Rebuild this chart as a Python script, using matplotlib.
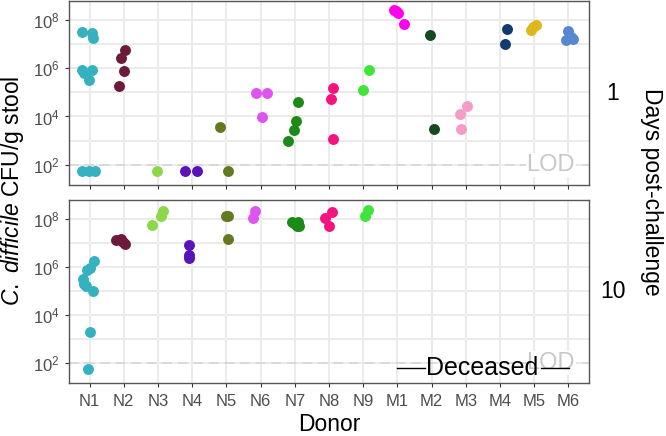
import matplotlib
matplotlib.use("Agg")
import matplotlib.pyplot as plt
import numpy as np

plt.rcParams["font.family"] = ["Liberation Sans", "DejaVu Sans"]
plt.rcParams["mathtext.fontset"] = "custom"
plt.rcParams["mathtext.rm"] = "Liberation Sans"
plt.rcParams["mathtext.it"] = "Liberation Sans:italic"

# Donors and colours
donors = ["N1", "N2", "N3", "N4", "N5", "N6", "N7", "N8", "N9",
          "M1", "M2", "M3", "M4", "M5", "M6"]
colors = ["#35B1BF", "#6E1B3B", "#8CD848", "#5B13B8", "#647A1E",
          "#DD55EE", "#1C8A17", "#F5147E", "#40E43A", "#FF00EE",
          "#134A20", "#F49BC8", "#133A6E", "#DDB81A", "#5588CF"]

LOD = 100
BELOW_LOD = 56  # value plotted for samples under the limit of detection

# CFU/g stool, day 1 post-challenge (one list per donor)
day1 = [
    [3e7, 2.8e7, 1.8e7, 8.5e5, 8.5e5, 6e5, 3.3e5, BELOW_LOD, BELOW_LOD, BELOW_LOD],
    [5.4e6, 2.6e6, 7.8e5, 1.9e5],
    [BELOW_LOD],
    [BELOW_LOD, BELOW_LOD],
    [3.7e3, BELOW_LOD],
    [9.3e4, 9.3e4, 9.3e3],
    [4e4, 6.8e3, 2.8e3, 9.6e2],
    [1.5e5, 5.5e4, 1.15e3],
    [8.5e5, 1.2e5],
    [2.5e8, 2.2e8, 1.8e8, 6.5e7],
    [2.4e7, 2.9e3],
    [2.8e4, 1.3e4, 2.9e3],
    [4.2e7, 1e7],
    [3.9e7, 5.8e7, 4.8e7],
    [3.3e7, 2e7, 1.4e7, 1.6e7],
]
# horizontal jitter seen in the figure (fraction of category width)
jitter1 = [
    [-0.21, 0.07, 0.1, -0.21, 0.07, -0.15, -0.02, -0.21, -0.02, 0.17],
    [0.05, -0.07, 0.02, -0.14],
    [-0.03],
    [-0.21, 0.14],
    [-0.19, 0.04],
    [-0.13, 0.18, 0.04],
    [0.09, 0.03, -0.03, -0.21],
    [0.11, 0.07, 0.11],
    [0.16, -0.01],
    [-0.1, -0.03, 0.01, 0.18],
    [-0.06, 0.08],
    [0.02, -0.18, -0.13],
    [0.19, 0.13],
    [-0.11, 0.06, -0.03],
    [0.0, 0.08, -0.06, 0.12],
]

# CFU/g stool, day 10 post-challenge (M donors deceased)
day10 = [
    [1.7e6, 9e5, 7.5e5, 3.2e5, 2e5, 1.6e5, 1e5, 1.9e3, 58],
    [1.23e7, 1.45e7, 1.05e7, 8.9e6],
    [2e8, 1.3e8, 5.5e7],
    [8e6, 3e6, 2.3e6],
    [1.25e8, 1.3e8, 1.35e7],
    [2.1e8, 1.1e8],
    [7e7, 7.5e7, 5e7, 6e7, 4.8e7],
    [1.8e8, 1.1e8, 4.8e7],
    [2.3e8, 1.25e8],
    [], [], [], [], [], [],
]
jitter10 = [
    [0.12, 0.02, -0.06, -0.2, -0.15, -0.09, 0.1, 0.0, -0.05],
    [-0.24, -0.09, -0.03, 0.05],
    [0.14, 0.08, -0.17],
    [-0.1, -0.1, -0.1],
    [0.04, -0.02, 0.06],
    [-0.15, -0.23],
    [-0.09, 0.08, 0.05, 0.0, 0.11],
    [0.08, -0.13, 0.0],
    [0.14, 0.06],
    [], [], [], [], [], [],
]

fig = plt.figure(figsize=(6.66, 4.36), dpi=100)
W, H = 666, 436
ax1 = fig.add_axes([69 / W, 1 - 185 / H, 520 / W, 184 / H])
ax2 = fig.add_axes([69 / W, 1 - 383 / H, 520 / W, 183 / H])

for ax, values, jit, day in [(ax1, day1, jitter1, "1"), (ax2, day10, jitter10, "10")]:
    ax.set_yscale("log")
    ax.set_xlim(-0.6, 14.6)
    ax.set_ylim(10 ** 1.17, 10 ** 8.77)
    ax.set_xticks(range(len(donors)))
    ax.set_yticks([1e2, 1e4, 1e6, 1e8])
    ax.set_yticklabels([r"$10^{2}$", r"$10^{4}$", r"$10^{6}$", r"$10^{8}$"])
    ax.set_yticks([1e3, 1e5, 1e7], minor=True)
    ax.yaxis.set_minor_formatter(matplotlib.ticker.NullFormatter())
    ax.tick_params(axis="y", which="minor", length=0)
    ax.tick_params(which="major", length=3, color="#333333", labelsize=12,
                   labelcolor="#4D4D4D", width=0.8)
    ax.tick_params(axis="x", pad=5)
    ax.grid(True, which="both", color="#EBEBEB", linewidth=1.4)
    ax.set_axisbelow(True)
    for s in ax.spines.values():
        s.set_color("#555555")
        s.set_linewidth(1.0)

    # limit of detection
    ax.axhline(LOD, color="#D9D9D9", linewidth=1.4, linestyle=(0, (5, 3)), zorder=1)
    ax.text(13.48, LOD, "LOD", color="#C8C8C8", fontsize=17, ha="center", va="center",
            zorder=2, bbox=dict(facecolor="white", edgecolor="none", pad=0.5))

    for i, (vals, offs) in enumerate(zip(values, jit)):
        if not vals:
            continue
        ax.scatter(np.array(offs) + i, vals, s=62, color=colors[i], linewidths=0, zorder=3)

    fig.text(613 / W, ax.get_position().y0 + ax.get_position().height / 2, day,
             fontsize=16.5, ha="center", va="center")

ax1.set_xticklabels([])
ax2.set_xticklabels(donors)

# deceased mice (M donors, day 10)
dec_y = 10 ** 1.79
ax2.plot([9, 9.8], [dec_y, dec_y], color="black", linewidth=1.0, zorder=4)
ax2.plot([13.2, 14.02], [dec_y, dec_y], color="black", linewidth=1.0, zorder=4)
ax2.text(11.49, dec_y, "Deceased", fontsize=18, ha="center", va="center", zorder=4)

ax2.set_xlabel("Donor", fontsize=16.5, labelpad=3)
fig.text(13 / W, 1 - 191 / H, r"$\it{C.\ difficile}$ CFU/g stool", rotation=90,
         fontsize=16.5, ha="center", va="center")
fig.text(652 / W, 1 - 192 / H, "Days post-challenge", rotation=270,
         fontsize=16.5, ha="center", va="center")

fig.savefig("out.png", dpi=100)
